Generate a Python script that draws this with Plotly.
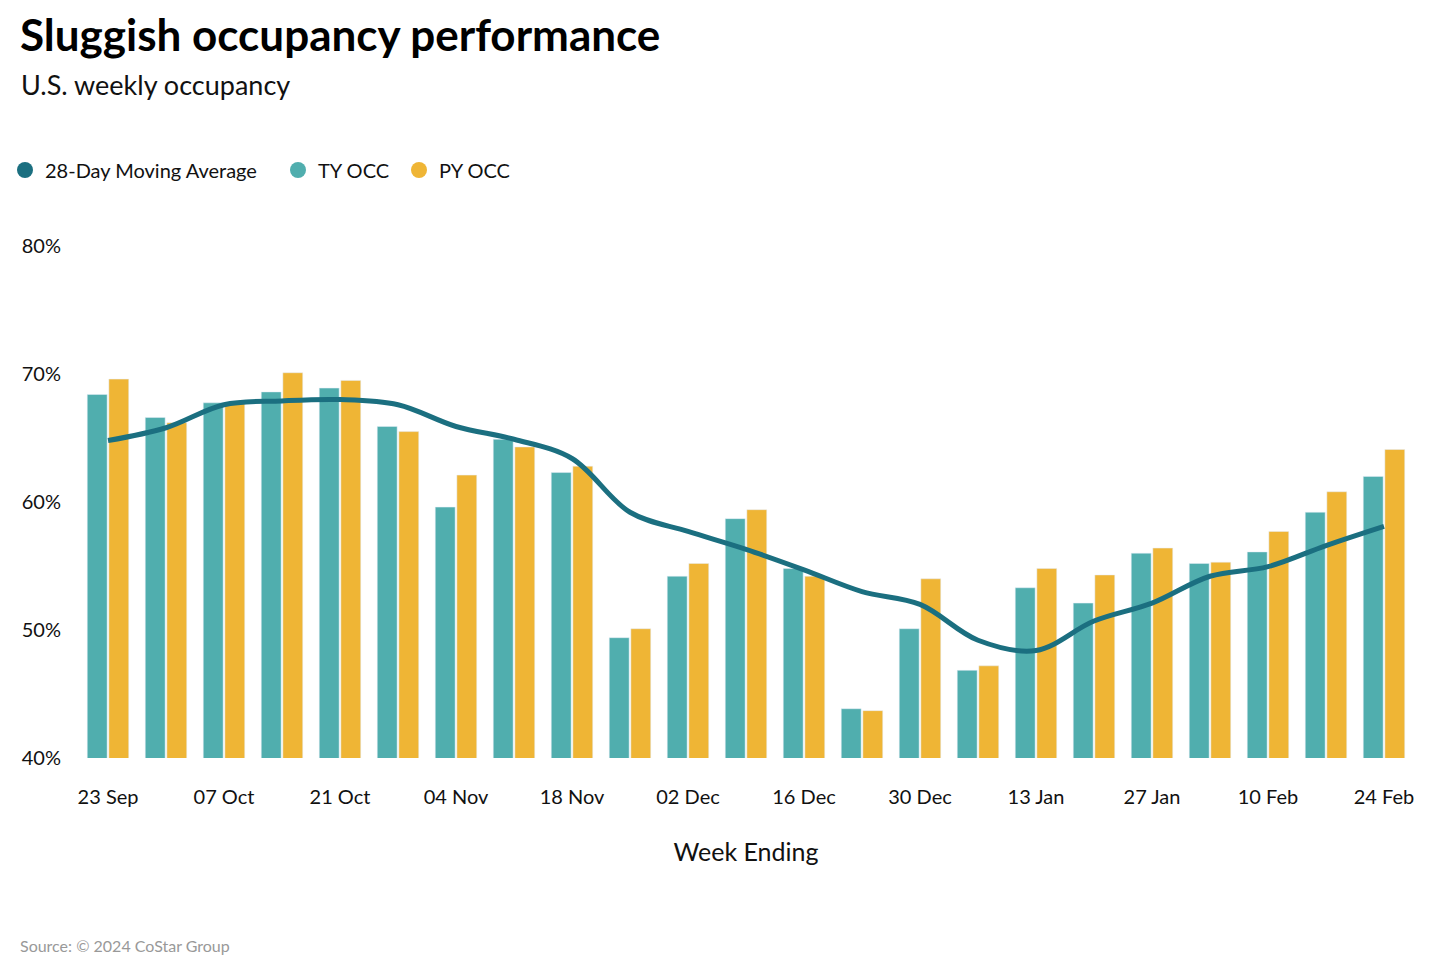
import plotly.graph_objects as go

weeks = ["23 Sep", "30 Sep", "07 Oct", "14 Oct", "21 Oct", "28 Oct", "04 Nov", "11 Nov",
         "18 Nov", "25 Nov", "02 Dec", "09 Dec", "16 Dec", "23 Dec", "30 Dec", "06 Jan",
         "13 Jan", "20 Jan", "27 Jan", "03 Feb", "10 Feb", "17 Feb", "24 Feb"]
ty_occ = [68.4, 66.6, 67.75, 68.6, 68.9, 65.9, 59.6, 64.9, 62.3, 49.4, 54.2, 58.7,
          54.8, 43.85, 50.1, 46.85, 53.3, 52.1, 56.0, 55.2, 56.1, 59.2, 62.0]
py_occ = [69.6, 66.2, 67.8, 70.1, 69.5, 65.5, 62.1, 64.3, 62.8, 50.1, 55.2, 59.4,
          54.2, 43.7, 54.0, 47.2, 54.8, 54.3, 56.4, 55.3, 57.7, 60.8, 64.1]
ma_28 = [64.8, 65.8, 67.6, 67.9, 68.0, 67.6, 65.9, 64.9, 63.4, 59.2, 57.7, 56.3,
         54.7, 53.0, 52.0, 49.2, 48.4, 50.7, 52.1, 54.2, 54.95, 56.6, 58.1]
tick_labels = weeks[::2]
y_ticks = [40, 50, 60, 70, 80]
y_tick_text = [f"{v}%" for v in y_ticks]

FONT = "Lato"
C_TY = "#50aeae"
C_PY = "#efb535"
C_MA = "#1b6f80"

# the page body adds an 8px margin; work in screen coordinates and subtract it
OFF = 8
W, H = 1446 - OFF, 964 - OFF
L, R, T, B = 79 - OFF, 1413 - OFF, 246 - OFF, 758 - OFF

def px(x):
    return (x - OFF - L) / (R - L)

def py(y):
    return (B - (y - OFF)) / (B - T)

fig = go.Figure()
fig.add_trace(go.Bar(x=weeks, y=ty_occ, name="TY OCC", marker_color=C_TY,
                     showlegend=False, hovertemplate="%{y:.1f}%<extra>TY OCC</extra>"))
fig.add_trace(go.Bar(x=weeks, y=py_occ, name="PY OCC", marker_color=C_PY,
                     showlegend=False, hovertemplate="%{y:.1f}%<extra>PY OCC</extra>"))
fig.add_trace(go.Scatter(x=weeks, y=ma_28, mode="lines", name="28-Day Moving Average",
                         line=dict(color=C_MA, width=5, shape="spline", smoothing=1.0),
                         showlegend=False))
# legend entries with circle markers, each in its own legend for exact placement
legend_items = [("28-Day Moving Average", C_MA, "legend", 5),
                ("TY OCC", C_TY, "legend2", 278),
                ("PY OCC", C_PY, "legend3", 399)]
for name, col, lg, _ in legend_items:
    fig.add_trace(go.Scatter(x=[None], y=[None], mode="markers", name=name, legend=lg,
                             marker=dict(color=col, size=17, symbol="circle")))

leg_common = dict(orientation="h", xanchor="left", y=py(170), yanchor="middle",
                  font=dict(size=20, family=FONT, color="#111"), itemwidth=30,
                  bgcolor="rgba(0,0,0,0)")
layout_legends = {lg: dict(leg_common, x=px(x0)) for _, _, lg, x0 in legend_items}

fig.update_layout(
    width=W, height=H,
    margin=dict(l=L, r=W - R, t=T, b=H - B, autoexpand=False),
    paper_bgcolor="white", plot_bgcolor="white",
    font=dict(family=FONT, color="#111111", size=20),
    barmode="group", bargap=0.255, bargroupgap=0.08,
    showlegend=True,
    **layout_legends,
    xaxis=dict(type="category", tickmode="array", tickvals=tick_labels, ticktext=tick_labels,
               showgrid=False, showline=False, zeroline=False, ticks="", automargin=False,
               tickfont=dict(size=20, family=FONT), ticklabelstandoff=25,
               title=dict(text="Week Ending", font=dict(size=25, family=FONT), standoff=36),
               range=[-0.5, len(weeks) - 0.5]),
    yaxis=dict(range=[40, 80], tickmode="array", tickvals=y_ticks, ticktext=y_tick_text,
               showgrid=False, showline=False, zeroline=False, ticks="", automargin=False,
               tickfont=dict(size=20, family=FONT), ticklabelstandoff=17),
    title=dict(text="<b>Sluggish occupancy performance</b>", xref="container", yref="container",
               x=(20 - OFF) / W, y=1 - (20 - OFF) / H, xanchor="left", yanchor="top",
               font=dict(size=44, family=FONT, color="#000")),
)

fig.add_annotation(text="U.S. weekly occupancy", xref="paper", yref="paper",
                   x=px(19), y=py(66), xanchor="left", yanchor="top", showarrow=False,
                   font=dict(size=27, family=FONT, color="#111"))
fig.add_annotation(text="Source: © 2024 CoStar Group", xref="paper", yref="paper",
                   x=px(18), y=py(945), xanchor="left", yanchor="middle", showarrow=False,
                   font=dict(size=16, family=FONT, color="#999999"))

fig.write_html("out.html")
